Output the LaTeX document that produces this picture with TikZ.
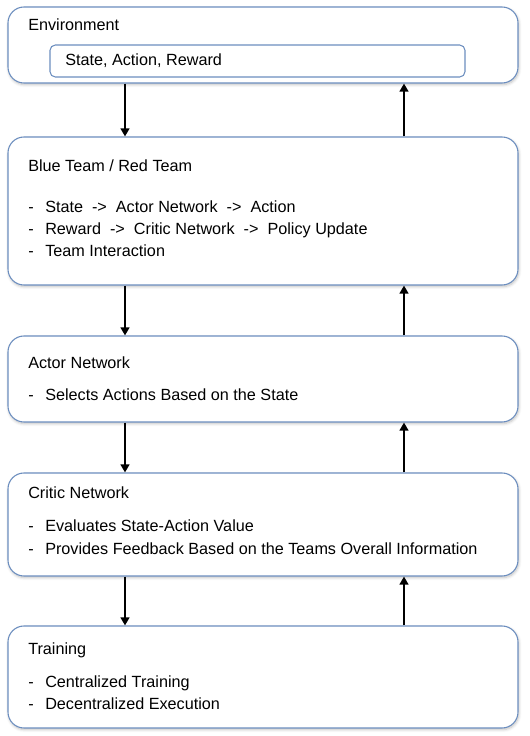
\documentclass[tikz,border=0pt]{standalone}
\usepackage{fontspec}
\setmainfont{Liberation Sans}
\usepackage{tikz}
\usetikzlibrary{arrows.meta}
\usetikzlibrary{shadows.blur}

\definecolor{boxline}{RGB}{108,142,191}
\newcommand{\itm}[1]{\makebox[12.75pt][l]{-}#1}

\begin{document}
\begin{tikzpicture}[x=0.75pt,y=0.75pt,yscale=-1,xscale=1,
  stagebox/.style={draw=boxline, line width=0.8pt, fill=white, rounded corners=12pt,
    minimum width=382.5pt, inner sep=0pt,
    blur shadow={shadow xshift=0.6pt, shadow yshift=-1.2pt, shadow blur steps=6, shadow opacity=25}},
  innerbox/.style={draw=boxline, line width=0.8pt, fill=white, rounded corners=4pt,
    minimum width=311.25pt, minimum height=24pt, inner sep=0pt},
  label/.style={anchor=base west, inner sep=0pt, font=\fontsize{12.15pt}{14pt}\selectfont},
  flow/.style={line width=2pt, -{Triangle[width=6.5pt,length=6pt]}}]
\useasboundingbox (0,0) rectangle (530,736);

%Boxes
\node [stagebox, minimum height=57pt] (env) at (263,45) {};
\node [innerbox] (sar) at (257.5,61) {};
\node [stagebox, minimum height=111pt] (team) at (263,211) {};
\node [stagebox, minimum height=64.5pt] (actor) at (263,379) {};
\node [stagebox, minimum height=77.25pt] (critic) at (263,524.5) {};
\node [stagebox, minimum height=76.5pt] (train) at (263,677) {};

%Arrow columns
\coordinate (dnx) at (125,0);
\coordinate (upx) at (404,0);

%Arrows
\draw [flow] (env.south -| dnx) -- (team.north -| dnx);
\draw [flow] (team.north -| upx) -- (env.south -| upx);
\draw [flow] (team.south -| dnx) -- (actor.north -| dnx);
\draw [flow] (actor.north -| upx) -- (team.south -| upx);
\draw [flow] (actor.south -| dnx) -- (critic.north -| dnx);
\draw [flow] (critic.north -| upx) -- (actor.south -| upx);
\draw [flow] (critic.south -| dnx) -- (train.north -| dnx);
\draw [flow] (train.north -| upx) -- (critic.south -| upx);

% Text Node
\node [label] (envt) at (28,30) {Environment};
\node [label] (sart) at (65,65) {State, Action, Reward};
% Text Node
\node [label] (teamt) at (28,171) {Blue Team / Red Team};
\node [label] (team1) at (28,212) {\itm{State\ \ ->\ \ Actor Network\ \ ->\ \ Action}};
\node [label] (team2) at (28,234) {\itm{Reward\ \ ->\ \ Critic Network\ \ ->\ \ Policy Update}};
\node [label] (team3) at (28,256) {\itm{Team Interaction}};
% Text Node
\node [label] (actort) at (28,368) {Actor Network};
\node [label] (actor1) at (28,400) {\itm{Selects Actions Based on the State}};
% Text Node
\node [label] (critict) at (28,498) {Critic Network};
\node [label] (critic1) at (28,531) {\itm{Evaluates State-Action Value}};
\node [label] (critic2) at (28,554) {\itm{Provides Feedback Based on the Teams Overall Information}};
% Text Node
\node [label] (traint) at (28,654) {Training};
\node [label] (train1) at (28,687) {\itm{Centralized Training}};
\node [label] (train2) at (28,709) {\itm{Decentralized Execution}};

\end{tikzpicture}
\end{document}
